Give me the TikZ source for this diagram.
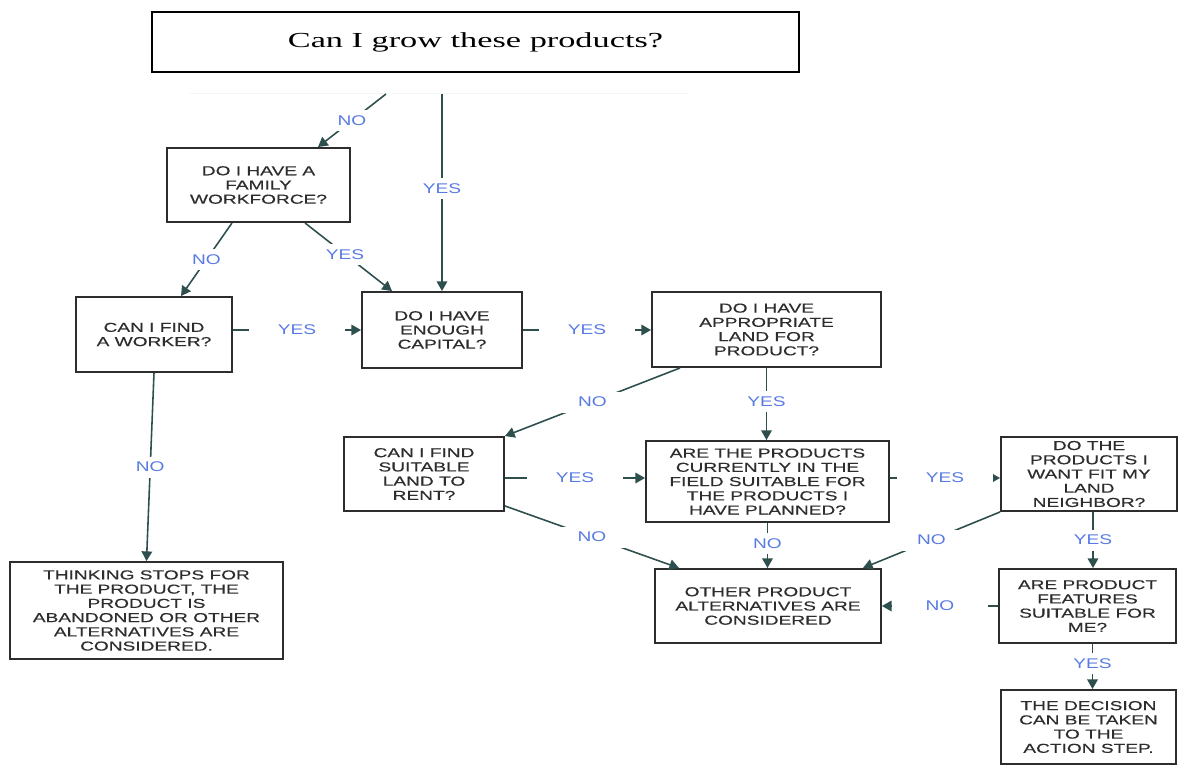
\documentclass[tikz,border=0pt]{standalone}
\usepackage{fontspec}
\setmainfont{Liberation Sans}
\newfontfamily\boxfont[FakeStretch=1.47, FakeBold=0.4]{Liberation Sans}
\newfontfamily\lblfont[FakeStretch=1.36]{Liberation Sans}
\newfontfamily\titlefont[FakeStretch=1.6]{Liberation Serif}
\usetikzlibrary{arrows.meta}
\definecolor{arrowcol}{RGB}{45,80,78}
\definecolor{lblcol}{RGB}{88,122,228}
\definecolor{boxcol}{RGB}{45,45,45}
\begin{document}
\begin{tikzpicture}[x=0.02cm, y=-0.02cm,
qbox/.style={draw=boxcol, line width=1.1pt, text=boxcol, align=center, inner sep=0pt, font=\boxfont\fontsize{7.4}{8.1}\selectfont},
arr/.style={draw=arrowcol, line width=0.9pt, -{Triangle[width=6pt,length=5.5pt]}},
lbl/.style={fill=white, text=lblcol, minimum width=1.94cm, minimum height=0.42cm, inner sep=0pt, font=\lblfont\fontsize{8}{9}\selectfont}]
\useasboundingbox (0,0) rectangle (1178,765);
\node[draw=black, line width=1.6pt, minimum width=12.94cm, minimum height=1.2cm, font=\titlefont\fontsize{12.2}{14}\selectfont] (title) at (475.5,42) {Can I grow these products?};
\draw[black!4, line width=0.5pt] (190,93) -- (688,93);
\coordinate (nostart) at (386,94);
\coordinate (yesstart) at (442,94);
\node[qbox, minimum width=3.66cm, minimum height=1.48cm] (fam) at (258.5,185) {DO I HAVE A\\FAMILY\\WORKFORCE?};
\node[qbox, minimum width=3.12cm, minimum height=1.5cm] (wrk) at (154,334.5) {CAN I FIND\\A WORKER?};
\node[qbox, minimum width=3.2cm, minimum height=1.52cm] (cap) at (442,330) {DO I HAVE\\ENOUGH\\CAPITAL?};
\node[qbox, minimum width=4.58cm, minimum height=1.5cm] (land) at (766.5,329.5) {DO I HAVE\\APPROPRIATE\\LAND FOR\\PRODUCT?};
\node[qbox, minimum width=3.2cm, minimum height=1.48cm] (rent) at (424,474) {CAN I FIND\\SUITABLE\\LAND TO\\RENT?};
\node[qbox, minimum width=4.86cm, minimum height=1.62cm] (prod) at (767.5,481.5) {ARE THE PRODUCTS\\CURRENTLY IN THE\\FIELD SUITABLE FOR\\THE PRODUCTS I\\HAVE PLANNED?};
\node[qbox, minimum width=3.52cm, minimum height=1.48cm] (nb) at (1089,474) {DO THE\\PRODUCTS I\\WANT FIT MY\\LAND\\NEIGHBOR?};
\node[qbox, minimum width=3.54cm, minimum height=1.48cm] (feat) at (1087.5,606) {ARE PRODUCT\\FEATURES\\SUITABLE FOR\\ME?};
\node[qbox, minimum width=3.5cm, minimum height=1.48cm] (dec) at (1088.5,727) {THE DECISION\\CAN BE TAKEN\\TO THE\\ACTION STEP.};
\node[qbox, minimum width=5.46cm, minimum height=1.94cm] (thk) at (146.5,610.5) {THINKING STOPS FOR\\THE PRODUCT, THE\\PRODUCT IS\\ABANDONED OR OTHER\\ALTERNATIVES ARE\\CONSIDERED.};
\node[qbox, minimum width=4.52cm, minimum height=1.48cm] (alt) at (768,606) {OTHER PRODUCT\\ALTERNATIVES ARE\\CONSIDERED};
\draw[arr] (nostart) -- node[lbl] (l1) {NO} ([xshift=1.19cm]fam.north);
\draw[arr] (yesstart) -- node[lbl, pos=0.48] (l2) {YES} (cap.north);
\draw[arr] ([xshift=-0.53cm]fam.south) -- node[lbl] (l3) {NO} ([xshift=0.54cm]wrk.north);
\draw[arr] ([xshift=0.93cm]fam.south) -- node[lbl, pos=0.46] (l4) {YES} ([xshift=-1cm]cap.north);
\draw[arr] (cap.west -| wrk.east) -- node[lbl] (l5) {YES} (cap.west);
\draw[arr] (cap.east) -- node[lbl] (l6) {YES} (cap.east -| land.west);
\draw[arr] ([xshift=-1.73cm]land.south) -- node[lbl] (l7) {NO} (rent.north east);
\draw[arr] (land.south) -- node[lbl, pos=0.47] (l8) {YES} (land.south |- prod.north);
\draw[arr] ([yshift=-0.08cm]rent.east) -- node[lbl] (l9) {YES} ([yshift=-0.08cm]rent.east -| prod.west);
\draw[arr] ([yshift=0.12cm]rent.south east) -- node[lbl] (l10) {NO} ([xshift=0.5cm]alt.north west);
\draw[arr] (prod.south) -- node[lbl, pos=0.45] (l11) {NO} (prod.south |- alt.north);
\draw[arr] ([yshift=0.07cm]prod.east) -- node[lbl] (l12) {YES} ([yshift=0.07cm]prod.east -| nb.west);
\draw[arr] (nb.south west) -- node[lbl] (l13) {NO} ([xshift=-0.38cm]alt.north east);
\draw[arr] ([xshift=0.08cm]nb.south) -- node[lbl] (l14) {YES} ([xshift=0.08cm]nb.south |- feat.north);
\draw[arr] (feat.west) -- node[lbl] (l15) {NO} (feat.west -| alt.east);
\draw[arr] ([xshift=0.1cm]feat.south) -- node[lbl, pos=0.43] (l16) {YES} ([xshift=0.1cm]feat.south |- dec.north);
\draw[arr] (wrk.south) -- node[lbl] (l17) {NO} (thk.north);
\end{tikzpicture}
\end{document}
